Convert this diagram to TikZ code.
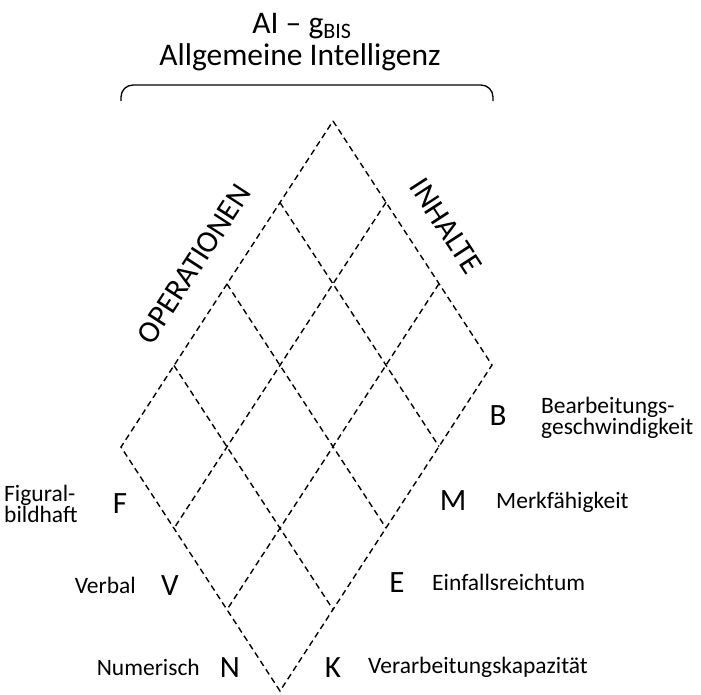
\documentclass[tikz,border=0pt]{standalone}
\usepackage{fontspec}
\setmainfont{Carlito}
\usetikzlibrary{calc}
\tikzset{
  grid/.style={draw=black, line width=1.4pt, dash pattern=on 6pt off 4pt},
  big/.style={font=\fontsize{31}{31}\selectfont, inner sep=0pt, anchor=base},
  lab/.style={font=\fontsize{23.5}{21}\selectfont, inner sep=0pt},
  ttl/.style={font=\fontsize{31.5}{31}\selectfont, inner sep=0pt, anchor=base},
  axis/.style={font=\fontsize{31}{31}\selectfont, inner sep=0pt},
  brace/.style={draw=black, line width=1.3pt, rounded corners=12pt}
}
\begin{document}
\begin{tikzpicture}[x=1pt,y=-1pt]
\useasboundingbox (0,0) rectangle (701,694);
% rhombus corners
\coordinate (T) at (333,121);
\coordinate (L) at (121,447);
\coordinate (R) at (492,365);
\coordinate (Bo) at (280,691);
\draw[grid] (T) -- (R) -- (Bo) -- (L) -- cycle;
% lines parallel to T-L (contents divisions)
\foreach \i in {1,2} {
  \draw[grid] ($(T)!\i/3!(R)$) -- ($(L)!\i/3!(Bo)$);
}
% lines parallel to T-R (operations divisions)
\foreach \j in {1,2,3} {
  \draw[grid] ($(T)!\j/4!(L)$) -- ($(R)!\j/4!(Bo)$);
}
% title
\node[ttl] (t1) at (302,33) {AI – g\textsubscript{BIS}};
\node[ttl] (t2) at (300,65) {Allgemeine Intelligenz};
% brace
\coordinate (bl) at (121,101);
\coordinate (br) at (493,101);
\draw[brace] (bl) -- (121,85) -- (493,85) -- (br);
% axis labels
\node[axis, rotate=57] (op) at (194,264) {OPERATIONEN};
\node[axis, rotate=-57] (in) at (446,226) {INHALTE};
% operations (right side)
\node[big] (B) at (498,425) {B};
\node[big] (M) at (453,510) {M};
\node[big] (E) at (397,592) {E};
\node[big] (K) at (333,677) {K};
\node[lab, anchor=base west, align=left] (Bt) at (541,434) {Bearbeitungs-\\geschwindigkeit};
\node[lab, anchor=base west] (Mt) at (496,508) {Merkfähigkeit};
\node[lab, anchor=base west] (Et) at (432,590) {Einfallsreichtum};
\node[lab, anchor=base west] (Kt) at (368,673) {Verarbeitungskapazität};
% contents (left side)
\node[big] (F) at (120,513) {F};
\node[big] (V) at (170,595) {V};
\node[big] (N) at (230,677) {N};
\node[lab, anchor=base west, align=left] (Ft) at (4,522) {Figural-\\bildhaft};
\node[lab, anchor=base east] (Vt) at (136,593) {Verbal};
\node[lab, anchor=base east] (Nt) at (200,675) {Numerisch};
\end{tikzpicture}
\end{document}
